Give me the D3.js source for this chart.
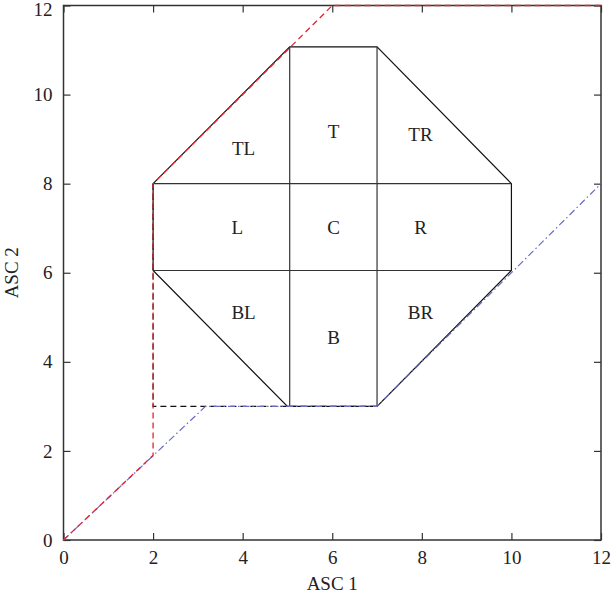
<!DOCTYPE html>
<html>
<head>
<meta charset="utf-8">
<script src="https://cdn.jsdelivr.net/npm/d3@7"></script>
<style>
  body { margin: 0; background: #fff; }
  svg text { font-family: "Liberation Serif", "Times New Roman", serif !important; fill: #222; }
</style>
</head>
<body>
<div id="chart"></div>
<script>
var svgWidth = 611;
var svgHeight = 601;
var margin = { left: 63.5, right: 10, top: 5.5, bottom: 61 };
var width = svgWidth - margin.left - margin.right;
var height = svgHeight - margin.top - margin.bottom;

// data
var ticks = [0, 2, 4, 6, 8, 10, 12];
var octagon = [[2, 8], [5.05, 11.07], [7, 11.07], [10, 8], [10, 6.05], [7, 3], [5, 3], [2, 6.05]];
var gridH = [[[2, 8], [10, 8]], [[2, 6.05], [10, 6.05]]];
var gridV = [[[5.05, 3], [5.05, 11.07]], [[7, 3], [7, 11.07]]];
var redPath = [[0, 0], [2, 1.9], [2, 8], [6, 12], [12, 12]];
var bluePath = [[0, 0], [3.17, 3], [7, 3], [12, 8]];
var blackPath = [[2, 8], [2, 3], [7, 3]];
var regions = ["TL", "T", "TR", "L", "C", "R", "BL", "B", "BR"];
var regionX = [4.02, 6.03, 7.97, 3.88, 6.03, 7.97, 4.02, 6.03, 7.97];
var regionY = [8.79, 9.17, 9.1, 7.02, 7.02, 7.02, 5.11, 4.55, 5.11];

var svg = d3.select("#chart").append("svg")
  .attr("width", svgWidth)
  .attr("height", svgHeight);

var g = svg.append("g")
  .attr("transform", `translate(${margin.left}, ${margin.top})`);

var x = d3.scaleLinear().domain([0, 12]).range([0, width]);
var y = d3.scaleLinear().domain([0, 12]).range([height, 0]);

var line = d3.line().x(d => x(d[0])).y(d => y(d[1]));

// axes, ticks inward on all sides
var axisColor = "#333";
function styleAxis(sel) {
  sel.select(".domain").remove();
  sel.attr("font-family", null);
  sel.selectAll("line").attr("stroke", axisColor).attr("stroke-width", 1.2);
  sel.selectAll("text").attr("font-size", "19px").attr("fill", "#222");
}

g.append("rect")
  .attr("width", width)
  .attr("height", height)
  .attr("fill", "none")
  .attr("stroke", axisColor)
  .attr("stroke-width", 1.5);

var xAxis = g.append("g")
  .attr("transform", `translate(0, ${height})`)
  .call(d3.axisBottom(x).tickValues(ticks).tickSize(-7).tickPadding(11));
styleAxis(xAxis);

var yAxis = g.append("g")
  .call(d3.axisLeft(y).tickValues(ticks).tickSize(-7).tickPadding(11));
styleAxis(yAxis);
// top label sits a little lower so it stays inside the page
yAxis.selectAll("text").filter(d => d === 12).attr("dy", "0.5em");

var xTop = g.append("g")
  .call(d3.axisTop(x).tickValues(ticks).tickSize(-7).tickFormat(""));
styleAxis(xTop);

var yRight = g.append("g")
  .attr("transform", `translate(${width}, 0)`)
  .call(d3.axisRight(y).tickValues(ticks).tickSize(-7).tickFormat(""));
styleAxis(yRight);

// octagon + inner grid
g.append("path")
  .attr("d", line(octagon) + "Z")
  .attr("fill", "none")
  .attr("stroke", "#111")
  .attr("stroke-width", 1.2);

gridH.concat(gridV).forEach(function(seg) {
  g.append("path")
    .attr("d", line(seg))
    .attr("fill", "none")
    .attr("stroke", "#333")
    .attr("stroke-width", 1.2);
});

// paths
g.append("path")
  .attr("d", line(blackPath))
  .attr("fill", "none")
  .attr("stroke", "#111")
  .attr("stroke-width", 1.2)
  .attr("stroke-dasharray", "6,4");

g.append("path")
  .attr("d", line(bluePath))
  .attr("fill", "none")
  .attr("stroke", "#6b6bc8")
  .attr("stroke-width", 1.2)
  .attr("stroke-dasharray", "7,3,1.5,3");

g.append("path")
  .attr("d", line(redPath))
  .attr("fill", "none")
  .attr("stroke", "#e3232e")
  .attr("stroke-width", 1.3)
  .attr("stroke-dasharray", "6,4");

// region labels
g.selectAll(".region").data(regions).enter()
  .append("text")
  .attr("class", "region")
  .attr("x", (d, i) => x(regionX[i]))
  .attr("y", (d, i) => y(regionY[i]))
  .attr("dy", "0.35em")
  .attr("text-anchor", "middle")
  .attr("font-size", "19px")
  .text(d => d);

// axis titles
g.append("text")
  .attr("x", width / 2)
  .attr("y", height + 50)
  .attr("text-anchor", "middle")
  .attr("font-size", "19px")
  .text("ASC 1");

g.append("text")
  .attr("transform", `translate(${-46}, ${height / 2}) rotate(-90)`)
  .attr("text-anchor", "middle")
  .attr("font-size", "19px")
  .text("ASC 2");
</script>
</body>
</html>
